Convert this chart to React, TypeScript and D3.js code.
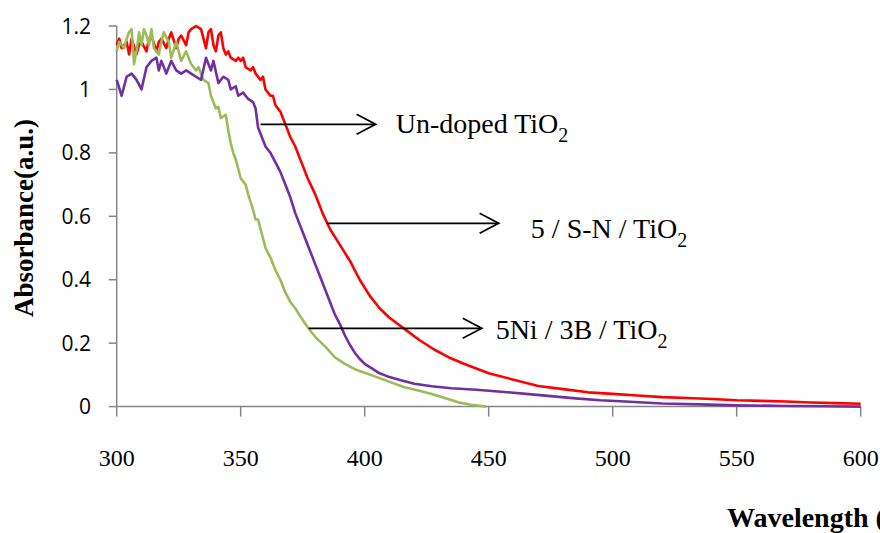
import React from 'react';
import * as d3 from 'd3';

// wavelength (nm), absorbance (a.u.)
const undopedTiO2: [number, number][] = [
  [300, 1.14], [301, 1.16], [302, 1.13], [304, 1.15], [305, 1.11], [306, 1.16], [308, 1.11],
  [309, 1.14], [310, 1.15], [312, 1.12], [313, 1.16], [314, 1.17], [316, 1.12], [317, 1.15],
  [318, 1.16], [320, 1.13], [321, 1.16], [322, 1.18], [324, 1.13], [325, 1.16], [326, 1.17],
  [328, 1.14], [329, 1.18], [330, 1.19], [332, 1.2], [334, 1.19], [335, 1.16], [336, 1.13],
  [337, 1.18], [338, 1.19], [339, 1.14], [340, 1.12], [341, 1.17], [342, 1.18], [343, 1.13],
  [344, 1.11], [345, 1.12], [346, 1.1], [348, 1.09], [349, 1.1], [350, 1.09], [351, 1.1],
  [352, 1.07], [354, 1.06], [355, 1.07], [356, 1.05], [358, 1.03], [359, 1.04], [360, 1.0],
  [362, 0.98], [363, 0.98], [364, 0.95], [366, 0.93], [367, 0.91], [368, 0.89],
  [370, 0.85], [372, 0.82], [374, 0.78], [377, 0.72], [380, 0.67], [383, 0.61], [386, 0.56],
  [390, 0.51], [394, 0.46], [398, 0.4], [402, 0.35], [406, 0.31], [410, 0.28], [416, 0.245],
  [422, 0.21], [428, 0.18], [434, 0.155], [440, 0.135], [450, 0.105], [460, 0.085],
  [470, 0.065], [480, 0.055], [490, 0.045], [500, 0.04], [510, 0.035], [520, 0.03],
  [530, 0.027], [540, 0.024], [550, 0.02], [560, 0.018], [570, 0.016], [580, 0.013],
  [590, 0.011], [600, 0.009],
];

const sNTiO2: [number, number][] = [
  [300, 1.03], [302, 0.98], [304, 1.04], [306, 1.05], [308, 1.03], [310, 1.0], [312, 1.07],
  [314, 1.09], [316, 1.1], [317, 1.06], [318, 1.09], [320, 1.05], [322, 1.09], [324, 1.06],
  [326, 1.05], [328, 1.06], [330, 1.05], [332, 1.04], [334, 1.03], [336, 1.1], [338, 1.06],
  [339, 1.09], [341, 1.02], [343, 1.04], [345, 1.03], [346, 1.0], [348, 1.01], [349, 0.98],
  [351, 0.99], [353, 0.97], [355, 0.96], [356, 0.94], [357, 0.88], [358, 0.86], [360, 0.82],
  [362, 0.8], [364, 0.77], [366, 0.74], [368, 0.7], [370, 0.66], [372, 0.61], [374, 0.57],
  [376, 0.53], [378, 0.49], [380, 0.45], [382, 0.41], [384, 0.37], [386, 0.33], [388, 0.29],
  [390, 0.26], [392, 0.225], [394, 0.195], [396, 0.17], [398, 0.15], [400, 0.135],
  [403, 0.12], [406, 0.105], [410, 0.093], [415, 0.082], [420, 0.072], [427, 0.064],
  [435, 0.058], [445, 0.053], [455, 0.047], [465, 0.04], [475, 0.033], [485, 0.026],
  [495, 0.02], [505, 0.016], [520, 0.01], [535, 0.007], [550, 0.004], [570, 0.002],
  [585, 0.001], [600, 0.0],
];

const niBTiO2: [number, number][] = [
  [300, 1.12], [301, 1.15], [303, 1.13], [304, 1.16], [305, 1.18], [306, 1.19], [307, 1.08],
  [308, 1.12], [309, 1.18], [310, 1.14], [311, 1.19], [312, 1.17], [313, 1.14], [314, 1.19],
  [315, 1.13], [317, 1.11], [318, 1.15], [319, 1.18], [321, 1.15], [322, 1.1], [324, 1.15],
  [326, 1.09], [328, 1.12], [330, 1.08], [332, 1.06], [333, 1.07], [335, 1.03], [337, 1.02],
  [338, 0.98], [340, 0.94], [341, 0.945], [342, 0.91], [344, 0.92], [345, 0.87], [346, 0.83],
  [347, 0.8], [348, 0.78], [349, 0.75], [350, 0.72], [352, 0.7], [353, 0.67], [355, 0.62],
  [356, 0.59], [357, 0.59], [358, 0.56], [360, 0.5], [362, 0.47], [364, 0.43], [366, 0.4],
  [368, 0.36], [370, 0.33], [372, 0.31], [374, 0.285], [377, 0.25], [380, 0.22], [384, 0.19],
  [388, 0.155], [392, 0.135], [396, 0.118], [400, 0.107], [405, 0.093], [410, 0.078],
  [416, 0.061], [422, 0.05], [427, 0.04], [432, 0.028], [438, 0.013], [443, 0.006], [449, 0.0],
];

const xTicks = [300, 350, 400, 450, 500, 550, 600];
const yTicks = [0, 0.2, 0.4, 0.6, 0.8, 1, 1.2];

// arrow annotations: from / to wavelength, absorbance level, label start
const arrows = [
  { from: 358, to: 404.4, at: 0.89, textAt: 412.5, label: 'Un-doped TiO', dy: 9 },
  { from: 384.7, to: 454, at: 0.578, textAt: 467, label: '5 / S-N / TiO', dy: 15 },
  { from: 377.4, to: 447.2, at: 0.247, textAt: 452.8, label: '5Ni / 3B / TiO', dy: 11 },
];

const series = [
  { name: 'Un-doped TiO2', data: undopedTiO2, color: '#ff0000' },
  { name: '5Ni / 3B / TiO2', data: niBTiO2, color: '#9bbb59' },
  { name: '5 / S-N / TiO2', data: sNTiO2, color: '#7030a0' },
];

const App = () => {
  const width = 880;
  const height = 533;
  const x = d3.scaleLinear().domain([300, 600]).range([116.7, 860.7]);
  const y = d3.scaleLinear().domain([0, 1.2]).range([406.6, 26]);
  const line = d3.line<[number, number]>().x(d => x(d[0])).y(d => y(d[1]));
  const axisColor = '#868686';
  const serif = "'Liberation Serif', 'Times New Roman', serif";

  return (
    <svg width={width} height={height} style={{ position: 'absolute', left: 0, top: 0, background: '#fff' }}>
      {/* y axis */}
      <line x1={x(300)} x2={x(300)} y1={y(1.2)} y2={y(0)} stroke={axisColor} strokeWidth={1.5} />
      {yTicks.map(t => (
        <g key={t}>
          <line x1={x(300) - 8} x2={x(300)} y1={y(t)} y2={y(t)} stroke={axisColor} strokeWidth={1.5} />
          <text x={91} y={y(t)} dy="0.36em" textAnchor="end" fontFamily="'Open Sans', sans-serif" fontSize={21} fill="#000">
            {t}
          </text>
        </g>
      ))}
      {/* x axis */}
      <line x1={x(300)} x2={x(600)} y1={y(0)} y2={y(0)} stroke={axisColor} strokeWidth={1.5} />
      {xTicks.map(t => (
        <g key={t}>
          <line x1={x(t)} x2={x(t)} y1={y(0)} y2={y(0) + 10} stroke={axisColor} strokeWidth={1.5} />
          <text x={x(t)} y={466} textAnchor="middle" fontFamily={serif} fontSize={24} fill="#000">
            {t}
          </text>
        </g>
      ))}

      {series.map(s => (
        <path key={s.name} d={line(s.data) || ''} fill="none" stroke={s.color} strokeWidth={2.6} strokeLinejoin="round" />
      ))}

      {arrows.map(a => (
        <g key={a.label}>
          <line x1={x(a.from)} x2={x(a.to)} y1={y(a.at)} y2={y(a.at)} stroke="#000" strokeWidth={1.75} />
          <path
            d={`M${x(a.to) - 19},${y(a.at) - 10}L${x(a.to)},${y(a.at)}L${x(a.to) - 19},${y(a.at) + 10}`}
            fill="none"
            stroke="#000"
            strokeWidth={1.75}
          />
          <text x={x(a.textAt)} y={y(a.at) + a.dy} fontFamily={serif} fontSize={28} fill="#000">
            {a.label}
            <tspan fontSize={20} dy={9}>2</tspan>
          </text>
        </g>
      ))}

      <text
        transform={`translate(33,218) rotate(-90)`}
        textAnchor="middle"
        fontFamily={serif}
        fontWeight="bold"
        fontSize={27}
        fill="#000"
      >
        Absorbance(a.u.)
      </text>
      <text x={727} y={527} fontFamily={serif} fontWeight="bold" fontSize={28} fill="#000">
        Wavelength (nm)
      </text>
    </svg>
  );
};

export default App;
